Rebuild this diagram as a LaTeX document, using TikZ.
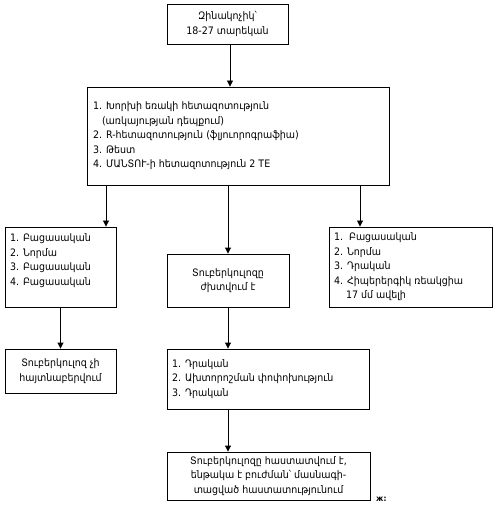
\documentclass[tikz,border=0pt]{standalone}
\usepackage{fontspec}
\setmainfont{DejaVu Sans}[FakeStretch=0.92]
\usetikzlibrary{arrows.meta}
\begin{document}
\begin{tikzpicture}[x=1pt,y=-1pt,
  box/.style={draw,line width=0.9pt,inner sep=0pt,font=\fontsize{10.3}{14.5}\selectfont},
  conn/.style={line width=0.9pt,-{Triangle[width=6pt,length=6pt]}},
  plain/.style={line width=0.9pt}]
\useasboundingbox (0,0) rectangle (501,510);
\node[box,minimum width=121pt,minimum height=40pt,align=center] (b1) at (227.5,24) {Զինակոչիկ՝\\18-27 տարեկան};
\node[box,minimum width=302pt,minimum height=98pt] (b2) at (238,136)
 {\parbox{290pt}{1. Խորխի եռակի հետազոտություն\\
 \hspace*{9pt}(առկայության դեպքում)\\
 2. R-հետազոտություն (ֆլյուորոգրաֆիա)\\
 3. Թեստ\\
 4. ՄԱՆՏՈՒ-ի հետազոտություն 2 TE}};
\node[box,minimum width=111pt,minimum height=80pt] (l1) at (60.5,267)
 {\parbox{101pt}{1. Բացասական\\2. Նորմա\\3. Բացասական\\4. Բացասական\\\mbox{}}};
\node[box,minimum width=122pt,minimum height=53pt,align=center] (m1) at (228,280.5)
 {Տուբերկուլոզը\\ժխտվում է};
\node[box,minimum width=163pt,minimum height=80pt] (r1) at (410.5,267)
 {\parbox{153pt}{1.\ \ Բացասական\\2. Նորմա\\3. Դրական\\4. Հիպերերգիկ ռեակցիա\\\hspace*{12pt}17 մմ ավելի}};
\node[box,minimum width=111pt,minimum height=44pt,align=center] (l2) at (60.5,371)
 {Տուբերկուլոզ չի\\հայտնաբերվում};
\node[box,minimum width=202pt,minimum height=60pt] (m2) at (268,379)
 {\parbox{192pt}{1. Դրական\\2. Ախտորոշման փոփոխություն\\3. Դրական}};
\node[box,minimum width=203pt,minimum height=48pt,align=center] (m3) at (268.5,476)
 {Տուբերկուլոզը հաստատվում է,\\ենթակա է բուժման՝ մասնագի-\\տացված հաստատությունում};
\node[anchor=south west,inner sep=0pt,font=\bfseries\fontsize{8}{8}\selectfont] (dot) at (376,502) {ж:};
\draw[conn] (b1.south -| 230,0) -- (b2.north -| 230,0);
\draw[conn] (b2.south -| 106,0) -- (l1.north -| 106,0);
\draw[conn] (b2.south -| 360,0) -- (r1.north -| 360,0);
\draw[conn] (b2.south -| m1.north) -- (m1.north);
\draw[conn] (l1) -- (l2);
\draw[conn] (m1.south) -- (m2.north -| m1.south);
\draw[conn] (m2.south -| m1.south) -- (m3.north -| m1.south);
\end{tikzpicture}
\end{document}
